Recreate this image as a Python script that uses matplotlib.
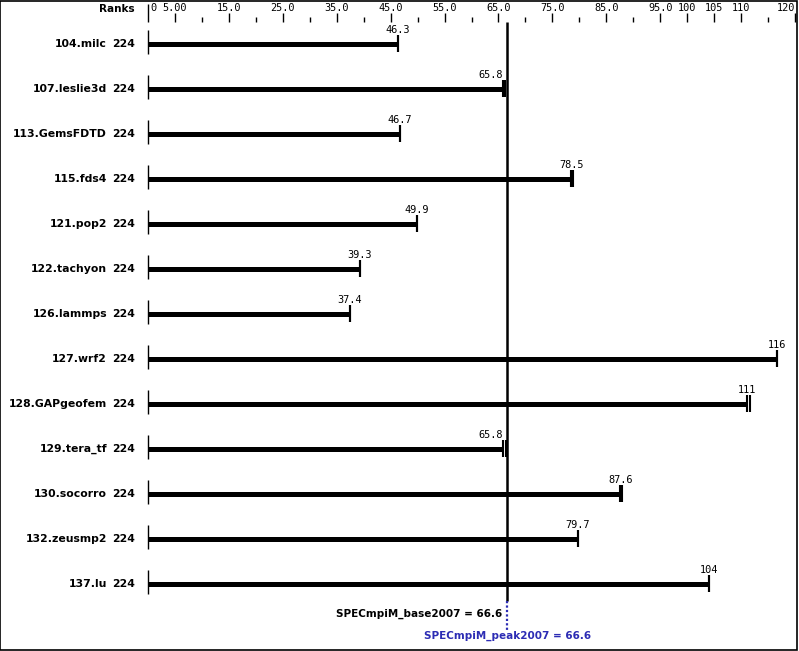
import numpy as np
import matplotlib.pyplot as plt

# SPEC MPI2007 ratios (base / peak), one row per benchmark
benchmarks = ['104.milc', '107.leslie3d', '113.GemsFDTD', '115.fds4', '121.pop2',
              '122.tachyon', '126.lammps', '127.wrf2', '128.GAPgeofem', '129.tera_tf',
              '130.socorro', '132.zeusmp2', '137.lu']
ranks = [224] * 13
base = [46.3, 65.8, 46.7, 78.5, 49.9, 39.3, 37.4, 116.6, 111.0, 65.8, 87.6, 79.7, 104.0]
peak = [46.3, 66.2, 46.7, 78.9, 49.9, 39.3, 37.4, 116.6, 111.7, 66.4, 87.9, 79.7, 104.0]
labels = ['46.3', '65.8', '46.7', '78.5', '49.9', '39.3', '37.4', '116', '111', '65.8',
          '87.6', '79.7', '104']
tick_major = [0, 5, 15, 25, 35, 45, 55, 65, 75, 85, 95, 100, 105, 110, 120]
tick_text = ['0', '5.00', '15.0', '25.0', '35.0', '45.0', '55.0', '65.0', '75.0',
             '85.0', '95.0', '100', '105', '110', '120']
tick_minor = [10, 20, 30, 40, 50, 60, 70, 80, 90, 115]
base_mean = 66.6
peak_mean = 66.6

W, H = 799, 651
SX = 5.392      # pixels per unit
X0 = 148        # pixel of value 0
ROW0, ROWH = 44, 45


def xp(px):
    # pixel column -> data x
    return (px - X0) / SX


def yp(py):
    # pixel row -> data y
    return (py - ROW0) / ROWH


fig = plt.figure(figsize=(W / 100, H / 100), dpi=100)
ax = fig.add_axes([0, 0, 1, 1])
ax.set_xlim(xp(0), xp(W))
ax.set_ylim(yp(H), yp(0))
ax.axis('off')

mono = dict(family='DejaVu Sans Mono', fontsize=7.4)
bold = dict(family='DejaVu Sans', fontsize=7.8, fontweight='bold')
bold_sm = dict(family='DejaVu Sans', fontsize=7.5, fontweight='bold')
blue = '#2c2cb4'

# header scale
ax.text(xp(135), yp(9), 'Ranks', ha='right', va='center', **bold_sm)
ax.vlines(0, yp(4), yp(22), color='black', lw=1)
ax.vlines(tick_major[1:], yp(13), yp(22), color='black', lw=1)
ax.vlines(tick_minor, yp(17), yp(22), color='black', lw=1)
for v, t in zip(tick_major, tick_text):
    ha = 'center'
    x = v
    if v == 0:
        ha, x = 'left', xp(150)
    elif v == 120:
        ha, x = 'right', xp(795)
    ax.text(x, yp(8), t, ha=ha, va='center', **mono)

# rows
y = np.arange(len(benchmarks))
ax.vlines(np.zeros(len(y)), y - 14 / ROWH, y + 10 / ROWH, color='black', lw=1)
ax.hlines(y, 0, base, color='black', lw=3.6)
ax.vlines(base, y - 9 / ROWH, y + 8 / ROWH, color='black', lw=1.5)
ax.vlines(peak, y - 9 / ROWH, y + 8 / ROWH, color='black', lw=1.5)
for i in range(len(benchmarks)):
    ax.text(xp(107), i, benchmarks[i], ha='right', va='center', **bold)
    ax.text(xp(124), i, str(ranks[i]), ha='center', va='center', **bold)
    # keep the value label clear of the mean line
    if abs(peak[i] - base_mean) < 3:
        ax.text(xp(503), i - 9 / ROWH, labels[i], ha='right', va='bottom', **mono)
    else:
        ax.text(base[i], i - 9 / ROWH, labels[i], ha='center', va='bottom', **mono)

# overall mean lines
ax.vlines(base_mean, yp(22), yp(601), color='black', lw=1.8)
ax.vlines(peak_mean, yp(601), yp(630), color=blue, lw=1.6, linestyles=[(0, (1, 1))])
ax.text(xp(502), yp(614), 'SPECmpiM_base2007 = %.1f' % base_mean,
        ha='right', va='center', **bold_sm)
ax.text(peak_mean, yp(636), 'SPECmpiM_peak2007 = %.1f' % peak_mean,
        ha='center', va='center', color=blue, **bold_sm)

# frame around the whole picture
fig.add_artist(plt.Rectangle((0.0006, 0.0008), 0.9975, 0.997, transform=fig.transFigure,
                             fill=False, edgecolor='black', lw=1.2))

fig.savefig('out.png', dpi=100)
